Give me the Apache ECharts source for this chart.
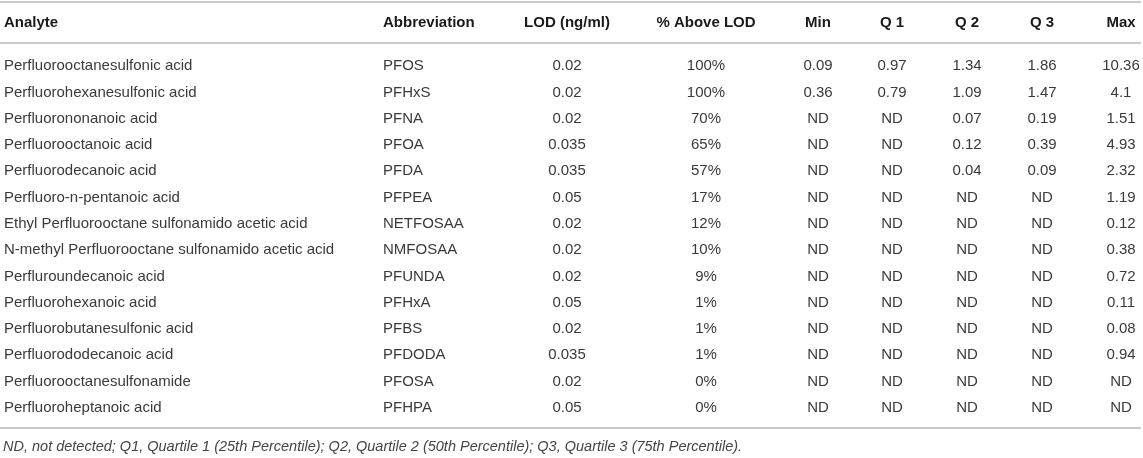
<!DOCTYPE html>
<html>
<head>
<meta charset="utf-8">
<script src="https://cdn.jsdelivr.net/npm/echarts@6/dist/echarts.min.js"></script>
<style>
html,body{margin:0;padding:0;background:#fff;}
#chart{width:1143px;height:458px;}
</style>
</head>
<body>
<div id="chart"></div>
<script>
// ---- data ----
var headers = ['Analyte', 'Abbreviation', 'LOD (ng/ml)', '% Above LOD', 'Min', 'Q 1', 'Q 2', 'Q 3', 'Max'];
var analytes = [
  'Perfluorooctanesulfonic acid', 'Perfluorohexanesulfonic acid', 'Perfluorononanoic acid',
  'Perfluorooctanoic acid', 'Perfluorodecanoic acid', 'Perfluoro-n-pentanoic acid',
  'Ethyl Perfluorooctane sulfonamido acetic acid', 'N-methyl Perfluorooctane sulfonamido acetic acid',
  'Perfluroundecanoic acid', 'Perfluorohexanoic acid', 'Perfluorobutanesulfonic acid',
  'Perfluorododecanoic acid', 'Perfluorooctanesulfonamide', 'Perfluoroheptanoic acid'
];
var abbreviations = ['PFOS', 'PFHxS', 'PFNA', 'PFOA', 'PFDA', 'PFPEA', 'NETFOSAA', 'NMFOSAA', 'PFUNDA', 'PFHxA', 'PFBS', 'PFDODA', 'PFOSA', 'PFHPA'];
var lod = ['0.02', '0.02', '0.02', '0.035', '0.035', '0.05', '0.02', '0.02', '0.02', '0.05', '0.02', '0.035', '0.02', '0.05'];
var aboveLod = [100, 100, 70, 65, 57, 17, 12, 10, 9, 1, 1, 1, 0, 0];
var minVals = ['0.09', '0.36', null, null, null, null, null, null, null, null, null, null, null, null];
var q1Vals  = ['0.97', '0.79', null, null, null, null, null, null, null, null, null, null, null, null];
var q2Vals  = ['1.34', '1.09', '0.07', '0.12', '0.04', null, null, null, null, null, null, null, null, null];
var q3Vals  = ['1.86', '1.47', '0.19', '0.39', '0.09', null, null, null, null, null, null, null, null, null];
var maxVals = ['10.36', '4.1', '1.51', '4.93', '2.32', '1.19', '0.12', '0.38', '0.72', '0.11', '0.08', '0.94', null, null];
var footnote = 'ND, not detected; Q1, Quartile 1 (25th Percentile); Q2, Quartile 2 (50th Percentile); Q3, Quartile 3 (75th Percentile).';

// ---- layout (style, not data) ----
var colX = [4, 383, 567, 706, 818, 892, 967, 1042, 1121];
var colAlign = ['left', 'left', 'center', 'center', 'center', 'center', 'center', 'center', 'center'];
var FONT = '"Liberation Sans", Arial, Helvetica, sans-serif';

function fmt(v) { return v == null ? 'ND' : String(v); }

var columns = [
  analytes, abbreviations, lod,
  aboveLod.map(function (v) { return v + '%'; }),
  minVals.map(fmt), q1Vals.map(fmt), q2Vals.map(fmt), q3Vals.map(fmt), maxVals.map(fmt)
];

var cells = [];
for (var r = 0; r < analytes.length; r++) {
  for (var c = 0; c < columns.length; c++) {
    cells.push([c, r, columns[c][r]]);
  }
}

var chart = echarts.init(document.getElementById('chart'), null, { renderer: 'canvas' });

var lineStyle = { stroke: '#b8b8b8', lineWidth: 1.6 };
var graphics = [
  { type: 'line', shape: { x1: 0, y1: 2, x2: 1141, y2: 2 }, style: lineStyle },
  { type: 'line', shape: { x1: 0, y1: 43, x2: 1141, y2: 43 }, style: lineStyle },
  { type: 'line', shape: { x1: 0, y1: 428, x2: 1141, y2: 428 }, style: lineStyle },
  { type: 'text', x: 3, y: 447, style: { text: footnote, fill: '#444', font: 'italic 14.5px ' + FONT, textVerticalAlign: 'middle' } }
];
headers.forEach(function (h, i) {
  graphics.push({
    type: 'text', x: colX[i], y: 23,
    style: { text: h, fill: '#1a1a1a', font: 'bold 15px ' + FONT, textAlign: colAlign[i], textVerticalAlign: 'middle' }
  });
});

chart.setOption({
  animation: false,
  backgroundColor: '#fff',
  grid: { left: 0, right: 0, top: 53, bottom: 37 },
  xAxis: { type: 'value', min: 0, max: 1143, show: false },
  yAxis: { type: 'category', data: analytes, inverse: true, show: false },
  graphic: graphics,
  series: [{
    type: 'custom',
    data: cells,
    encode: { x: 0, y: 1 },
    renderItem: function (params, api) {
      var c = api.value(0);
      var r = api.value(1);
      var y = api.coord([0, r])[1];
      return {
        type: 'text',
        x: colX[c], y: y,
        style: {
          text: cells[params.dataIndex][2],
          fill: '#3a3a3a',
          font: '15px ' + FONT,
          textAlign: colAlign[c],
          textVerticalAlign: 'middle'
        }
      };
    }
  }]
});
</script>
</body>
</html>
